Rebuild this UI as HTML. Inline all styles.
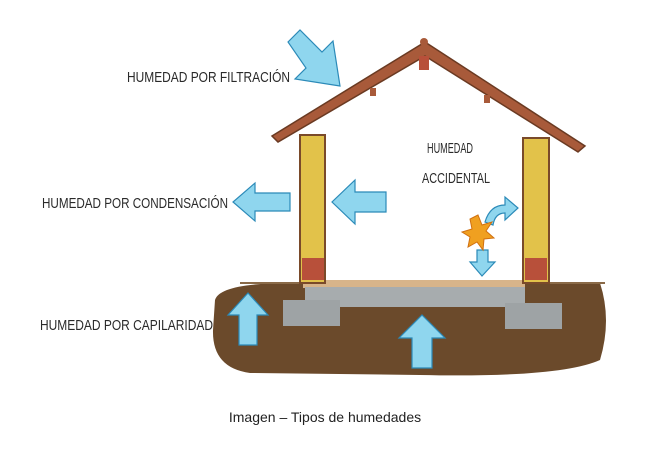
<!DOCTYPE html>
<html><head><meta charset="utf-8"><style>
html,body{margin:0;padding:0;background:#fff;width:650px;height:450px;overflow:hidden}
svg{display:block}
.t{font-family:"Liberation Sans",sans-serif;font-size:15px;fill:#2a2a2a}
</style></head><body>
<svg width="650" height="450" viewBox="0 0 650 450">
<!-- ground -->
<path d="M215,300 Q220,282 300,283 L600,283 Q612,320 600,360 Q560,378 420,375 L250,373 Q212,368 213,330 Z" fill="#6b4a2b"/>
<path d="M240,283 L605,283" stroke="#8a6a48" stroke-width="2"/>
<!-- slab -->
<rect x="303" y="280" width="222" height="8" fill="#d7b48a"/>
<rect x="305" y="287" width="220" height="20" fill="#a7acae"/>
<rect x="283" y="300" width="57" height="26" fill="#9ea3a5"/>
<rect x="505" y="303" width="57" height="26" fill="#9ea3a5"/>
<!-- walls -->
<rect x="300" y="135" width="25" height="148" fill="#e2c24a" stroke="#7a4a2a" stroke-width="2"/>
<rect x="523" y="138" width="26" height="145" fill="#e2c24a" stroke="#7a4a2a" stroke-width="2"/>
<rect x="302" y="258" width="22" height="22" fill="#b8503a"/>
<rect x="525" y="258" width="22" height="22" fill="#b8503a"/>
<!-- roof -->
<path d="M272,136 L425,42 L585,146 L578,152 L425,56 L278,142 Z" fill="#a85a3a" stroke="#6a3a22" stroke-width="1.5"/>
<circle cx="424" cy="42" r="4" fill="#a85a3a"/>
<rect x="419" y="56" width="10" height="14" fill="#b8503a"/>
<rect x="370" y="88" width="6" height="8" fill="#a85a3a"/>
<rect x="484" y="95" width="6" height="8" fill="#a85a3a"/>
<!-- arrows -->
<g fill="#8fd6ee" stroke="#2b8ab8" stroke-width="1.2">
<path d="M288,42 L300,30 L322,52 L333,41 L340,86 L295,79 L306,68 Z"/>
<path d="M290,193 L255,193 L255,183 L233,202 L255,221 L255,211 L290,211 Z"/>
<path d="M386,192 L355,192 L355,180 L332,202 L355,224 L355,212 L386,212 Z"/>
<path d="M239,345 L239,315 L228,315 L248,293 L268,315 L257,315 L257,345 Z"/>
<path d="M412,368 L412,338 L399,338 L422,315 L445,338 L432,338 L432,368 Z"/>
<path d="M477,250 L488,250 L488,262 L495,262 L482,276 L470,262 L477,262 Z"/>
<path d="M485,222 Q490,205 505,205 L505,197 L518,208 L505,220 L505,213 Q495,213 493,225 Z"/>
</g>
<polygon points="478,215 482,225 492,222 486,231 494,238 484,239 483,250 477,242 468,247 470,237 462,232 472,229 470,219" fill="#f0a020" stroke="#d07010"/>
<!-- labels -->
<text class="t" x="127" y="82" textLength="163" lengthAdjust="spacingAndGlyphs">HUMEDAD POR FILTRACIÓN</text>
<text class="t" x="42" y="208" textLength="186" lengthAdjust="spacingAndGlyphs">HUMEDAD POR CONDENSACIÓN</text>
<text class="t" x="40" y="330" textLength="173" lengthAdjust="spacingAndGlyphs">HUMEDAD POR CAPILARIDAD</text>
<text class="t" x="427" y="153" textLength="46" lengthAdjust="spacingAndGlyphs">HUMEDAD</text>
<text class="t" x="422" y="183" textLength="68" lengthAdjust="spacingAndGlyphs">ACCIDENTAL</text>
<text x="325" y="422" text-anchor="middle" font-family="Liberation Sans,sans-serif" font-size="14" fill="#222">Imagen – Tipos de humedades</text>
</svg>
</body></html>
